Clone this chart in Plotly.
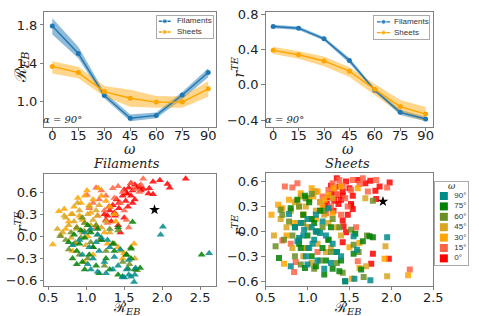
import plotly.graph_objects as go

W, H = 479, 316

# ---------------- data ----------------
OMEGA = [0, 15, 30, 45, 60, 75, 90]
OMEGA_LABELS = ["0°", "15°", "30°", "45°", "60°", "75°", "90°"]
OMEGA_COLORS = ["#ff0000", "#ff6347", "#ffa500", "#daa520", "#6b8e23", "#008000", "#008b8b"]
SERIES = ["Filaments", "Sheets"]

# top-left: R_EB vs omega
REB_FIL = [1.79, 1.50, 1.06, 0.82, 0.85, 1.065, 1.30]
REB_FIL_LO = [1.70, 1.45, 1.03, 0.79, 0.82, 1.02, 1.25]
REB_FIL_HI = [1.87, 1.57, 1.095, 0.86, 0.88, 1.095, 1.345]
REB_SHE = [1.365, 1.30, 1.10, 1.03, 0.99, 0.99, 1.13]
REB_SHE_LO = [1.29, 1.24, 1.05, 0.94, 0.93, 0.93, 1.045]
REB_SHE_HI = [1.42, 1.36, 1.16, 1.12, 1.055, 1.05, 1.21]

# top-right: r_TE vs omega
RTE_FIL = [0.66, 0.64, 0.52, 0.275, -0.06, -0.31, -0.385]
RTE_FIL_LO = [0.64, 0.62, 0.50, 0.245, -0.08, -0.34, -0.41]
RTE_FIL_HI = [0.68, 0.66, 0.54, 0.305, -0.04, -0.28, -0.36]
RTE_SHE = [0.39, 0.34, 0.27, 0.155, -0.05, -0.245, -0.33]
RTE_SHE_LO = [0.35, 0.295, 0.21, 0.09, -0.12, -0.32, -0.41]
RTE_SHE_HI = [0.43, 0.38, 0.32, 0.20, 0.01, -0.17, -0.25]

# bottom-left: Filaments scatter, per omega (0,15,...,90)
FIL_X = [
    [2.31, 2.10, 2.07, 1.97, 1.88, 1.83, 1.82, 1.88, 1.72, 1.67, 1.64, 1.61, 1.59, 1.56, 1.53, 1.50, 1.48, 1.64, 1.61, 1.55,
     1.43, 1.40, 1.35, 1.31, 1.28, 1.24, 1.26, 1.33, 1.37, 1.42, 1.50, 1.45, 1.70, 1.75, 1.59, 1.52, 1.43, 1.38, 1.30, 1.54],
    [1.13, 1.01, 1.09, 1.20, 1.26, 1.35, 1.42, 1.48, 1.59, 1.64, 1.72, 1.75, 1.37, 1.31, 1.17, 1.24, 1.04, 1.15, 1.45, 1.53,
     1.28, 1.39, 1.13, 1.70, 1.50, 1.56],
    [0.56, 0.64, 0.71, 0.89, 1.01, 0.98, 1.16, 1.09, 0.93, 0.84, 0.80, 1.04, 1.20, 1.26, 0.91, 0.95, 0.77, 0.73, 1.06, 1.13,
     1.31, 1.37, 1.24, 0.875, 1.02, 1.17, 1.42, 1.48, 0.82, 0.98, 1.09, 1.28, 1.39, 1.50, 1.63],
    [0.62, 0.69, 0.73, 0.77, 0.82, 0.84, 0.875, 0.91, 0.93, 0.95, 0.98, 1.02, 1.04, 1.09, 1.15, 1.20, 0.80, 0.885, 0.97, 1.06,
     1.13, 1.26, 1.31, 0.71, 0.66, 0.86, 0.995, 1.17, 1.35, 1.46, 1.53, 1.64],
    [0.66, 0.73, 0.80, 0.84, 0.875, 0.93, 0.98, 1.04, 1.09, 1.15, 1.20, 1.26, 1.37, 1.42, 1.53, 1.59, 1.67, 0.91, 1.02, 1.13,
     1.31, 1.48, 0.77, 0.95, 1.06, 1.24, 1.57],
    [0.77, 0.82, 0.84, 0.875, 0.91, 0.93, 0.95, 0.98, 1.02, 1.04, 1.06, 1.09, 1.13, 1.15, 1.20, 1.26, 1.31, 1.37, 1.42, 1.48,
     1.59, 1.64, 1.71, 1.55, 1.59, 1.42, 1.61, 2.52, 0.875, 0.98, 1.17, 1.35, 1.53],
    [0.82, 0.91, 0.95, 0.98, 1.04, 1.06, 1.09, 1.13, 1.15, 1.17, 1.20, 1.24, 1.26, 1.31, 1.37, 1.42, 1.48, 1.53, 1.59, 1.64,
     1.56, 1.65, 1.06, 1.15, 1.28, 1.45, 1.56, 1.63, 2.01, 1.98, 2.62, 1.02, 1.35, 1.50],
]
FIL_Y = [
    [0.78, 0.66, 0.71, 0.76, 0.74, 0.65, 0.58, 0.57, 0.62, 0.66, 0.70, 0.62, 0.55, 0.66, 0.58, 0.63, 0.55, 0.50, 0.45, 0.40,
     0.45, 0.50, 0.42, 0.35, 0.28, 0.30, 0.22, 0.20, 0.32, 0.15, 0.25, 0.05, 0.68, 0.64, 0.72, 0.48, 0.38, 0.28, 0.40, 0.58],
    [0.66, 0.56, 0.45, 0.62, 0.55, 0.65, 0.68, 0.60, 0.72, 0.64, 0.70, 0.78, 0.52, 0.40, 0.50, 0.35, 0.38, 0.28, 0.45, 0.22,
     0.18, 0.30, 0.12, 0.60, 0.35, 0.12],
    [-0.11, 0.34, 0.37, 0.52, 0.62, 0.55, 0.65, 0.50, 0.45, 0.40, 0.30, 0.42, 0.55, 0.48, 0.28, 0.22, 0.20, 0.10, 0.32, 0.15,
     0.40, 0.30, 0.05, 0.12, 0.00, -0.05, -0.15, -0.30, -0.20, -0.35, -0.25, -0.10, 0.20, -0.23, -0.10],
    [0.10, 0.05, 0.25, 0.15, 0.30, 0.20, 0.10, 0.35, 0.25, 0.05, 0.18, 0.30, 0.40, 0.22, 0.28, 0.12, -0.02, 0.45, 0.08, 0.15,
     0.35, 0.20, 0.05, 0.28, 0.02, -0.08, -0.12, 0.42, -0.10, -0.20, -0.25, -0.30],
    [0.00, -0.05, 0.05, -0.10, 0.12, -0.02, 0.18, 0.08, -0.15, 0.02, -0.05, -0.20, -0.10, 0.08, -0.25, -0.15, -0.46, -0.25, -0.30, 0.15,
     0.10, -0.35, -0.18, 0.25, -0.08, -0.40, -0.38],
    [-0.08, -0.30, 0.02, -0.20, -0.10, 0.08, -0.35, -0.02, 0.15, -0.25, 0.05, -0.15, -0.40, 0.10, -0.05, -0.30, -0.45, -0.20, -0.52, -0.55,
     -0.30, -0.45, -0.43, -0.44, -0.17, 0.12, 0.195, -0.25, -0.38, -0.45, -0.50, -0.10, -0.25],
    [-0.12, -0.05, -0.25, 0.05, -0.15, -0.45, -0.30, -0.08, -0.48, -0.20, -0.02, -0.35, -0.50, -0.15, -0.28, -0.40, -0.55, -0.45, -0.55, -0.52,
     -0.52, -0.43, 0.10, 0.02, -0.05, -0.18, -0.32, -0.62, 0.13, 0.02, -0.23, -0.38, -0.45, -0.56],
]

# bottom-right: Sheets scatter, per omega (0,15,...,90)
SHE_X = [
    [1.98, 1.86, 1.81, 1.75, 1.69, 1.60, 1.54, 1.52, 1.50, 1.46, 1.42, 1.38, 1.35, 1.34, 1.29, 1.32, 1.25, 1.23, 1.37, 1.42,
     1.52, 1.54, 1.42, 1.43, 1.46, 1.42, 1.78, 1.76, 1.97, 1.82, 1.28, 1.20, 1.31, 1.40, 1.48],
    [0.73, 0.82, 0.88, 0.70, 0.84, 0.86, 1.66, 1.54, 1.62, 1.52, 1.95, 1.82, 1.60, 2.22, 1.38, 1.42, 1.30, 1.25, 1.35, 1.45,
     1.18, 1.15, 1.28, 1.48, 1.40, 1.10, 1.22, 1.32, 0.80, 1.58, 1.72, 1.12],
    [0.57, 0.65, 0.70, 0.78, 0.87, 0.92, 1.00, 1.05, 1.12, 1.18, 1.25, 1.31, 1.40, 1.60, 1.92, 2.20, 1.53, 1.62, 1.50, 1.62,
     0.72, 0.90, 1.07, 0.95, 1.10, 1.20, 0.83, 1.02, 1.15, 0.75, 0.98, 1.30],
    [0.60, 0.68, 0.75, 0.80, 0.85, 0.88, 0.92, 0.95, 0.98, 1.00, 1.02, 1.05, 1.08, 1.10, 1.15, 1.20, 1.25, 1.30, 1.35, 0.90,
     1.12, 1.22, 1.40, 1.69, 1.95, 1.93, 0.82, 0.95, 1.05, 1.28, 1.70],
    [0.62, 0.68, 0.72, 0.78, 0.85, 0.90, 0.95, 1.00, 1.05, 1.10, 1.15, 1.20, 1.25, 1.30, 1.35, 1.42, 1.52, 1.55, 1.67, 1.78,
     1.61, 0.82, 0.98, 1.08, 1.18, 1.28, 0.70, 1.38, 1.71, 0.92],
    [0.66, 0.80, 0.85, 0.90, 0.95, 0.97, 1.00, 1.02, 1.05, 1.08, 1.10, 1.12, 1.15, 1.18, 1.20, 1.25, 1.30, 1.35, 1.40, 1.45,
     1.57, 1.66, 1.74, 1.78, 1.55, 1.64, 0.92, 1.05, 1.28, 0.97, 1.22, 1.38, 0.88],
    [0.78, 0.80, 0.85, 0.88, 0.92, 0.95, 0.98, 1.00, 1.02, 1.05, 1.08, 1.10, 1.12, 1.15, 1.20, 1.25, 1.30, 1.35, 1.45, 1.56,
     1.75, 1.95, 1.55, 1.59, 0.90, 1.00, 1.10, 1.18, 1.40, 0.96, 1.06, 1.22, 1.28],
]
SHE_Y = [
    [0.59, 0.54, 0.49, 0.61, 0.58, 0.62, 0.43, 0.31, 0.52, 0.60, 0.48, 0.54, 0.64, 0.44, 0.46, 0.37, 0.41, 0.33, 0.33, 0.43,
     0.33, 0.27, 0.13, 0.06, -0.01, -0.13, -0.27, -0.39, -0.33, 0.39, 0.55, 0.30, 0.25, 0.38, 0.20],
    [0.54, 0.53, 0.58, -0.11, -0.49, -0.37, 0.64, 0.62, 0.57, 0.50, 0.53, 0.62, -0.36, -0.46, 0.62, 0.55, 0.58, 0.50, 0.45, 0.40,
     0.42, 0.35, 0.30, 0.30, 0.20, 0.48, 0.22, 0.52, -0.15, 0.05, 0.48, -0.25],
    [0.20, 0.32, 0.28, 0.38, 0.37, 0.46, 0.40, 0.52, 0.48, 0.30, 0.44, 0.52, 0.54, 0.52, -0.33, -0.53, -0.57, -0.44, -0.19, -0.14,
     -0.39, 0.30, 0.42, 0.20, 0.15, 0.38, 0.10, 0.05, 0.25, -0.05, -0.20, 0.22],
    [-0.05, 0.15, 0.05, 0.25, 0.35, 0.10, 0.42, 0.20, 0.30, 0.05, 0.38, 0.15, 0.48, 0.25, 0.35, 0.20, 0.10, 0.40, 0.05, -0.10,
     -0.15, -0.25, -0.05, 0.40, -0.54, -0.18, -0.20, -0.30, -0.38, -0.20, -0.42],
    [-0.18, 0.26, -0.10, 0.12, -0.30, 0.30, 0.10, -0.20, 0.45, 0.00, -0.35, 0.25, -0.10, 0.15, -0.38, -0.50, 0.02, -0.16, -0.55, 0.37,
     -0.25, -0.05, 0.40, -0.45, 0.05, -0.25, 0.20, 0.05, -0.05, -0.40],
    [-0.32, 0.28, 0.05, -0.15, 0.20, 0.43, -0.05, 0.35, -0.30, 0.10, -0.42, 0.00, 0.25, -0.20, -0.52, -0.10, -0.45, -0.25, -0.35, -0.60,
     -0.03, -0.12, -0.06, -0.07, -0.27, -0.46, -0.20, 0.15, 0.05, -0.44, -0.35, -0.48, 0.38],
    [0.21, -0.42, 0.05, -0.12, 0.10, -0.05, -0.30, 0.15, -0.20, 0.05, -0.10, 0.20, -0.35, -0.02, -0.45, 0.28, -0.15, -0.25, -0.60, -0.57,
     -0.59, -0.07, -0.06, -0.22, -0.08, -0.40, 0.00, 0.12, -0.30, 0.02, -0.15, -0.05, -0.38],
]

STAR_X = [1.90]
STAR_Y = [0.36]

# ---------------- styling ----------------
BLUE = "#1f77b4"
ORANGE = "#ffa500"
SERIES_COLORS = [BLUE, ORANGE]
FRAME = "#808080"
TXT = "#222"
TICKFONT = dict(family="DejaVu Sans", size=13, color=TXT)
SERIF = "DejaVu Serif"
LEGFONT = dict(family="Liberation Sans", size=8, color="#333")


def px_x(p):
    return p / W


def px_y(p):
    return 1 - p / H


fig = go.Figure()


def band(x, lo, hi, color, xa, ya):
    fig.add_trace(go.Scatter(
        x=list(x) + list(x)[::-1], y=list(hi) + list(lo)[::-1],
        fill="toself", fillcolor=color, line=dict(width=0), mode="lines",
        hoverinfo="skip", showlegend=False, xaxis=xa, yaxis=ya))


def line(x, y, color, name, xa, ya):
    fig.add_trace(go.Scatter(
        x=x, y=y, mode="lines+markers", name=name, showlegend=False,
        line=dict(color=color, width=1.4), marker=dict(color=color, size=5),
        xaxis=xa, yaxis=ya))


band(OMEGA, REB_FIL_LO, REB_FIL_HI, "rgba(31,119,180,0.5)", "x", "y")
band(OMEGA, REB_SHE_LO, REB_SHE_HI, "rgba(255,165,0,0.45)", "x", "y")
line(OMEGA, REB_FIL, BLUE, SERIES[0], "x", "y")
line(OMEGA, REB_SHE, ORANGE, SERIES[1], "x", "y")

band(OMEGA, RTE_FIL_LO, RTE_FIL_HI, "rgba(31,119,180,0.5)", "x2", "y2")
band(OMEGA, RTE_SHE_LO, RTE_SHE_HI, "rgba(255,165,0,0.45)", "x2", "y2")
line(OMEGA, RTE_FIL, BLUE, SERIES[0], "x2", "y2")
line(OMEGA, RTE_SHE, ORANGE, SERIES[1], "x2", "y2")

for i, lab in enumerate(OMEGA_LABELS):
    fig.add_trace(go.Scatter(
        x=FIL_X[i], y=FIL_Y[i], mode="markers", name=lab, showlegend=False,
        marker=dict(symbol="triangle-up", size=7, color=OMEGA_COLORS[i], opacity=0.85,
                    line=dict(width=0)),
        xaxis="x3", yaxis="y3"))
    fig.add_trace(go.Scatter(
        x=SHE_X[i], y=SHE_Y[i], mode="markers", name=lab, showlegend=False,
        marker=dict(symbol="square", size=6, color=OMEGA_COLORS[i], opacity=0.85,
                    line=dict(width=0)),
        xaxis="x4", yaxis="y4"))

for xa, ya in (("x3", "y3"), ("x4", "y4")):
    fig.add_trace(go.Scatter(x=STAR_X, y=STAR_Y, mode="markers", showlegend=False,
                             marker=dict(symbol="star", size=8, color="black"),
                             xaxis=xa, yaxis=ya))

# ---- legends, drawn in small boxed axes from the name / colour lists ----
# omega legend
fig.add_trace(go.Scatter(
    x=[0.27] * len(OMEGA_LABELS), y=list(range(len(OMEGA_LABELS))),
    mode="markers+text", text=["  " + t for t in OMEGA_LABELS], textposition="middle right",
    textfont=LEGFONT, cliponaxis=False,
    marker=dict(symbol="square", size=8, color=OMEGA_COLORS),
    showlegend=False, hoverinfo="skip", xaxis="x5", yaxis="y5"))

# series legends (top panels): line sample with a marker in the middle, then the name
LEG_GLYPH = {"x6": (0.04, 0.145, 0.25, 0.36), "x7": (0.05, 0.17, 0.29, 0.36)}
for xa, ya in (("x6", "y6"), ("x7", "y7")):
    x0, xm, x1, xt = LEG_GLYPH[xa]
    for k, (name, col) in enumerate(zip(SERIES, SERIES_COLORS)):
        row = len(SERIES) - 1 - k
        fig.add_trace(go.Scatter(
            x=[x0, xm, x1], y=[row] * 3, mode="lines+markers",
            line=dict(color=col, width=1.4), marker=dict(color=col, size=[0, 5, 0]),
            showlegend=False, hoverinfo="skip", xaxis=xa, yaxis=ya))
        fig.add_trace(go.Scatter(
            x=[xt], y=[row], mode="text", text=[name], textposition="middle right",
            textfont=LEGFONT, cliponaxis=False,
            showlegend=False, hoverinfo="skip", xaxis=xa, yaxis=ya))

axis_common = dict(showline=True, linecolor=FRAME, linewidth=1, mirror=True,
                   ticks="outside", ticklen=3.5, tickcolor=FRAME, tickwidth=1,
                   showgrid=False, zeroline=False, tickfont=TICKFONT)
box_axis = dict(showticklabels=False, ticks="", showgrid=False, zeroline=False, showline=True,
                mirror=True, linecolor="#aaa", linewidth=1, fixedrange=True)
REB_T = "ℛ<sub><i>EB</i></sub>"
RTE_T = "<i>r<sup>TE</sup></i>"


def note(text, x, y, size, angle=0, family=SERIF):
    return dict(text=text, x=px_x(x), y=px_y(y), xref="paper", yref="paper",
                xanchor="center", yanchor="middle", showarrow=False, textangle=angle,
                font=dict(family=family, size=size, color=TXT))


fig.update_layout(
    width=W, height=H, margin=dict(l=0, r=0, t=0, b=0),
    paper_bgcolor="white", plot_bgcolor="white", showlegend=False,
    xaxis=dict(domain=[px_x(36), px_x(215)], range=[-4.5, 94.5], tickvals=OMEGA, anchor="y",
               ticklabelstandoff=-7, **axis_common),
    yaxis=dict(domain=[px_y(125), px_y(7.3)], range=[0.73, 1.935], tickvals=[1.0, 1.4, 1.8],
               tickformat=".1f", anchor="x", **axis_common),
    xaxis2=dict(domain=[px_x(266.7), px_x(441.7)], range=[-4.5, 94.5], tickvals=OMEGA, anchor="y2",
                ticklabelstandoff=-7, **axis_common),
    yaxis2=dict(domain=[px_y(125), px_y(7.3)], range=[-0.474, 0.822], tickvals=[-0.4, 0.0, 0.4, 0.8],
                tickformat=".1f", anchor="x2", **axis_common),
    xaxis3=dict(domain=[px_x(36), px_x(215)], range=[0.45, 2.71], tickvals=[0.5, 1.0, 1.5, 2.0, 2.5],
                tickformat=".1f", anchor="y3", ticklabelstandoff=-4, **axis_common),
    yaxis3=dict(domain=[px_y(288), px_y(173)], range=[-0.67, 0.85], tickvals=[-0.6, -0.3, 0.0, 0.3, 0.6],
                tickformat=".1f", anchor="x3", **axis_common),
    xaxis4=dict(domain=[px_x(266.7), px_x(441.7)], range=[0.5, 2.5], tickvals=[0.5, 1.0, 1.5, 2.0, 2.5],
                tickformat=".1f", anchor="y4", ticklabelstandoff=-4, **axis_common),
    yaxis4=dict(domain=[px_y(288), px_y(172.7)], range=[-0.655, 0.70], tickvals=[-0.6, -0.3, 0.0, 0.3, 0.6],
                tickformat=".1f", anchor="x4", **axis_common),
    xaxis5=dict(domain=[px_x(443.3), px_x(478.3)], range=[0, 1], anchor="y5", **box_axis),
    yaxis5=dict(domain=[px_y(267), px_y(182)], range=[-0.66, 7.31], anchor="x5", **box_axis),
    xaxis6=dict(domain=[px_x(153), px_x(212)], range=[0, 1], anchor="y6", **box_axis),
    yaxis6=dict(domain=[px_y(34), px_y(11.7)], range=[-0.57, 1.45], anchor="x6", **box_axis),
    xaxis7=dict(domain=[px_x(380), px_x(437.7)], range=[0, 1], anchor="y7", **box_axis),
    yaxis7=dict(domain=[px_y(35), px_y(11.7)], range=[-0.61, 1.51], anchor="x7", **box_axis),
    annotations=[
        note("<i>α = 90°</i>", 55, 117, 10),
        note("<i>α = 90°</i>", 286, 117, 10),
        note(REB_T, 12, 64, 16, -90),
        note("<i>ω</i>", 125, 148, 14),
        note(RTE_T, 238, 64, 14, -90),
        note("<i>ω</i>", 353, 148, 14),
        note("<i>Filaments</i>", 122, 163, 13),
        note("<i>Sheets</i>", 352, 163, 13),
        note(RTE_T, 12, 222, 14, -90),
        note(REB_T, 122, 311, 14),
        note(RTE_T, 238, 226, 14, -90),
        note(REB_T, 352, 311, 14),
        note("<i>ω</i>", 460.8, 186, 9),
    ],
)

fig.write_html("out.html", post_script="document.body.style.margin='0';",
               config={"displayModeBar": False})
